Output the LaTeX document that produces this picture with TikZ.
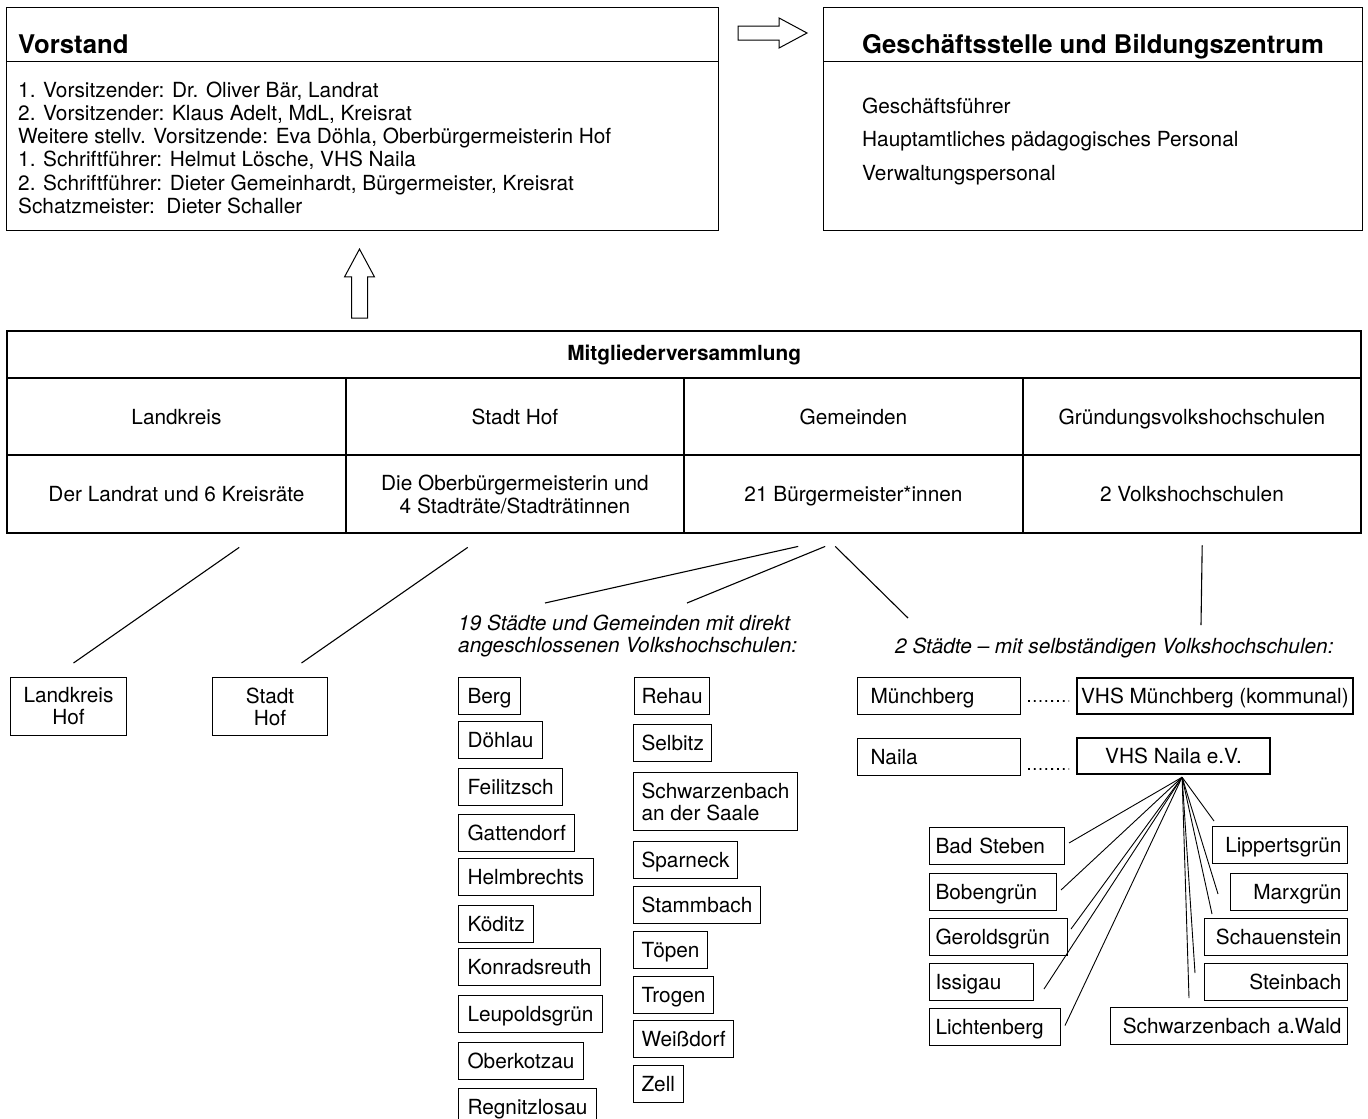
\documentclass[tikz,border=0pt]{standalone}
\usepackage{fontspec}
\setmainfont{TeX Gyre Heros}
\usetikzlibrary{shapes.arrows}
\usetikzlibrary{calc}
\newcommand{\grundschrift}{\fontsize{20.8}{23.3}\selectfont}
\newcommand{\engschrift}{\fontsize{20.8}{22}\selectfont}
\newcommand{\titelschrift}{\fontsize{25.7}{28}\selectfont\bfseries}

\begin{document}
\begin{tikzpicture}[x=1pt,y=1pt,yscale=-1,xscale=1,
  rahmen/.style={draw, line width=1.2pt, inner sep=0pt, anchor=north west},
  zelle/.style={draw, line width=2.4pt, inner sep=0pt, anchor=north west, minimum width=338.5pt, font=\grundschrift},
  kasten/.style={draw, line width=1pt, inner xsep=9pt, inner ysep=0pt, anchor=north west, font=\grundschrift},
  einzeilig/.style={text height=15pt, text depth=0pt, minimum height=37pt},
  vhs/.style={kasten, einzeilig, line width=2.2pt, minimum height=36pt},
  ortsteil/.style={kasten, einzeilig, inner xsep=6pt},
  linie/.style={line width=1.1pt},
  faecher/.style={line width=0.9pt},
  punkte/.style={line width=1.8pt, dash pattern=on 1.8pt off 4pt, shorten <=7pt, shorten >=7pt},
  hohlpfeil/.style={draw, line width=1pt, single arrow, minimum height=69pt, minimum width=29pt, single arrow tip angle=56.5}
]
\useasboundingbox (0,0) rectangle (1368,1119);

%Vorstand
\node[rahmen, minimum width=712pt, minimum height=54pt] (vorstandkopf) at (6,7) {};
\node[rahmen, minimum width=712pt, minimum height=169pt] (vorstand) at (6,61) {};
\node[anchor=base west, inner sep=0pt, font=\titelschrift] (vorstandtitel) at (18,53) {Vorstand};
\node[anchor=base west, inner sep=0pt, font=\grundschrift, align=left] (vorstandliste) at (18,213.5) {1. Vorsitzender: Dr. Oliver Bär, Landrat\\ 2. Vorsitzender: Klaus Adelt, MdL, Kreisrat\\ Weitere stellv. Vorsitzende: Eva Döhla, Oberbürgermeisterin Hof\\ 1. Schriftführer: Helmut Lösche, VHS Naila\\ 2. Schriftführer: Dieter Gemeinhardt, Bürgermeister, Kreisrat\\ Schatzmeister:\ \ Dieter Schaller};

%Geschaeftsstelle
\node[rahmen, minimum width=539pt, minimum height=54pt] (gskopf) at (823,7) {};
\node[rahmen, minimum width=539pt, minimum height=169pt] (gs) at (823,61) {};
\node[anchor=base west, inner sep=0pt, font=\titelschrift] (gstitel) at (862,53) {Geschäftsstelle und Bildungszentrum};
\node[anchor=base west, inner sep=0pt, font=\fontsize{20.8}{33.5}\selectfont, align=left] (gsliste) at (862,180) {Geschäftsführer\\ Hauptamtliches pädagogisches Personal\\ Verwaltungspersonal};

%Hohlpfeile
\node[hohlpfeil, inner sep=6.5pt, single arrow head extend=8pt] (pfeilgs) at (766,33) {};
\node[hohlpfeil, inner sep=7.5pt, single arrow head extend=7pt, shape border rotate=90] (pfeilvorstand) at (359.5,291) {};

%Mitgliederversammlung
\node[zelle, minimum width=1354pt, minimum height=47pt, font=\grundschrift\bfseries] (mv) at (6,330) {Mitgliederversammlung};
\node[zelle, einzeilig, minimum height=77pt] (lk) at (6,377) {Landkreis};
\node[zelle, einzeilig, minimum height=77pt] (sh) at (344.5,377) {Stadt Hof};
\node[zelle, einzeilig, minimum height=77pt] (gem) at (683,377) {Gemeinden};
\node[zelle, einzeilig, minimum height=77pt] (gvhs) at (1021.5,377) {Gründungsvolkshochschulen};
\node[zelle, einzeilig, minimum height=78pt] (lrat) at (6,454) {Der Landrat und 6 Kreisräte};
\node[zelle, minimum height=78pt, font=\fontsize{20.8}{23}\selectfont, align=center] (obm) at (344.5,454) {Die Oberbürgermeisterin und\\4 Stadträte/Stadträtinnen};
\node[zelle, einzeilig, minimum height=78pt] (buerger) at (683,454) {21 Bürgermeister*innen};
\node[zelle, einzeilig, minimum height=78pt] (zweivhs) at (1021.5,454) {2 Volkshochschulen};

%Traeger
\node[kasten, minimum width=116pt, minimum height=58pt, align=center, font=\engschrift] (lkhof) at (10,677) {Landkreis\\Hof};
\node[kasten, minimum width=115pt, minimum height=58pt, align=center, font=\engschrift] (shhof) at (212,677) {Stadt\\Hof};

% Text Node
\node[anchor=base west, inner sep=0pt, font=\engschrift\itshape, align=left] (direkt) at (458,652) {19 Städte und Gemeinden mit direkt\\angeschlossenen Volkshochschulen:};
% Text Node
\node[anchor=base west, inner sep=0pt, font=\grundschrift\itshape] (selbst) at (895,653) {2 Städte – mit selbständigen Volkshochschulen:};

%Orte mit direkt angeschlossenen Volkshochschulen
\node[kasten, einzeilig] (berg) at (458,677) {Berg};
\node[kasten, einzeilig] (doehlau) at (458,721) {Döhlau};
\node[kasten, einzeilig] (feilitzsch) at (458,768) {Feilitzsch};
\node[kasten, einzeilig] (gattendorf) at (458,814) {Gattendorf};
\node[kasten, einzeilig] (helmbrechts) at (458,858) {Helmbrechts};
\node[kasten, einzeilig] (koeditz) at (458,905) {Köditz};
\node[kasten, einzeilig] (konradsreuth) at (458,948) {Konradsreuth};
\node[kasten, einzeilig] (leupoldsgruen) at (458,995) {Leupoldsgrün};
\node[kasten, einzeilig] (oberkotzau) at (458,1042) {Oberkotzau};
\node[kasten, einzeilig] (regnitzlosau) at (458,1088) {Regnitzlosau};
\node[kasten, einzeilig, inner xsep=7pt] (rehau) at (634,677) {Rehau};
\node[kasten, einzeilig, inner xsep=8pt] (selbitz) at (633,724) {Selbitz};
\node[kasten, inner xsep=8pt, minimum height=58pt, align=left, font=\engschrift] (schwarzenbachsaale) at (633,772) {Schwarzenbach\\an der Saale};
\node[kasten, einzeilig, inner xsep=8pt] (sparneck) at (633,841) {Sparneck};
\node[kasten, einzeilig, inner xsep=8pt] (stammbach) at (633,886) {Stammbach};
\node[kasten, einzeilig, inner xsep=8pt] (toepen) at (633,931) {Töpen};
\node[kasten, einzeilig, inner xsep=8pt] (trogen) at (633,976) {Trogen};
\node[kasten, einzeilig, inner xsep=8pt] (weissdorf) at (633,1020) {Weißdorf};
\node[kasten, einzeilig, inner xsep=8pt] (zell) at (633,1065) {Zell};

%Staedte mit selbstaendigen Volkshochschulen
\node[kasten, einzeilig, inner xsep=13pt, text width=137pt, align=left] (muenchberg) at (857,677) {Münchberg};
\node[kasten, einzeilig, inner xsep=13pt, text width=137pt, align=left] (naila) at (857,738) {Naila};
\node[vhs, inner xsep=4pt] (vhsmuenchberg) at (1076,677) {VHS Münchberg (kommunal)};
\node[vhs, minimum width=193pt] (vhsnaila) at (1076,737) {VHS Naila e.V.};
\draw[punkte] ($(muenchberg.east)+(0,5)$) -- ($(vhsmuenchberg.west)+(0,5)$);
\draw[punkte] ($(naila.east)+(0,12)$) -- ($(vhsnaila.west)+(0,13)$);

%Ortsteile der VHS Naila
\node[ortsteil, text width=123pt, align=left] (badsteben) at (929,827) {Bad Steben};
\node[ortsteil, text width=115pt, align=left] (bobengruen) at (929,873) {Bobengrün};
\node[ortsteil, text width=126pt, align=left] (geroldsgruen) at (929,918) {Geroldsgrün};
\node[ortsteil, text width=92pt, align=left] (issigau) at (929,963) {Issigau};
\node[ortsteil, text width=119pt, align=left] (lichtenberg) at (929,1008) {Lichtenberg};
\node[ortsteil, anchor=north east, text width=123pt, align=right] (lippertsgruen) at (1348,826) {Lippertsgrün};
\node[ortsteil, anchor=north east, text width=105pt, align=right] (marxgruen) at (1348,873) {Marxgrün};
\node[ortsteil, anchor=north east, text width=131pt, align=right] (schauenstein) at (1348,918) {Schauenstein};
\node[ortsteil, anchor=north east, text width=131pt, align=right] (steinbach) at (1348,963) {Steinbach};
\node[ortsteil, anchor=north east, text width=225pt, align=right] (schwarzenbachwald) at (1348,1007) {Schwarzenbach a.Wald};

%Verbindungslinien
\draw[linie] ($(lrat.south)+(62.75,13)$) -- ($(lkhof.north)+(5,-14)$);
\draw[linie] ($(obm.south)+(-47.25,13)$) -- ($(shhof.north)+(31.5,-14)$);
\draw[linie] ($(buerger.south)+(-55.25,12)$) -- ($(direkt.base west)+(87,-49)$);
\draw[linie] ($(buerger.south)+(-28.25,12)$) -- ($(direkt.base west)+(229,-49)$);
\draw[linie] ($(buerger.south)+(-18.25,12)$) -- ($(selbst.base west)+(13,-35)$);
\draw[linie] ($(zweivhs.south)+(10.25,11)$) -- ($(selbst.base west)+(306,-28)$);

\coordinate (naila-fuss) at ($(vhsnaila.south)+(8.5,2)$);
\draw[faecher] (naila-fuss) -- ($(badsteben.east)+(4,-3)$);
\draw[faecher] (naila-fuss) -- ($(bobengruen.east)+(4,-2)$);
\draw[faecher] (naila-fuss) -- ($(geroldsgruen.east)+(3,-8)$);
\draw[faecher] (naila-fuss) -- ($(issigau.east)+(10,7)$);
\draw[faecher] (naila-fuss) -- ($(lichtenberg.east)+(4,-1.5)$);
\draw[faecher] (naila-fuss) -- ($(lippertsgruen.north west)+(2,-5)$);
\draw[faecher] (naila-fuss) -- ($(marxgruen.west)+(-12,2)$);
\draw[faecher] (naila-fuss) -- ($(schauenstein.north west)+(8,-4)$);
\draw[faecher] (naila-fuss) -- ($(steinbach.west)+(-9,-9)$);
\draw[faecher] (naila-fuss) -- ($(schwarzenbachwald.north west)+(79,-9)$);

\end{tikzpicture}
\end{document}
